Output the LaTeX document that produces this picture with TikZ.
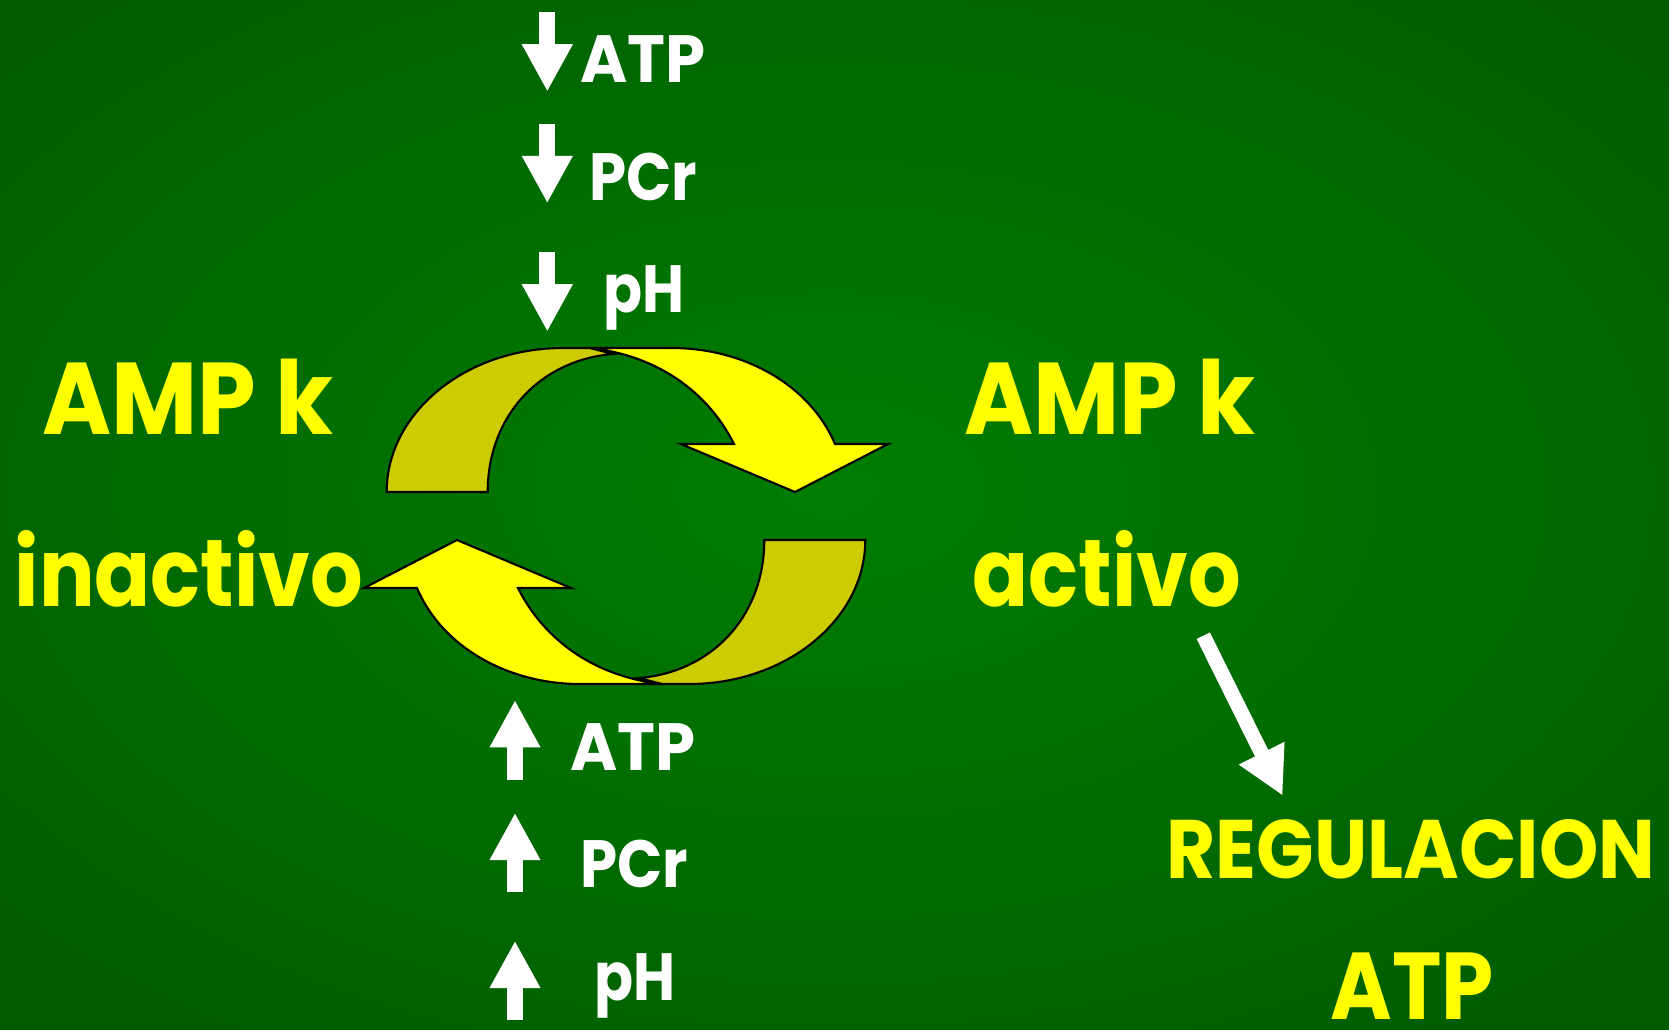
\documentclass[tikz,border=0pt]{standalone}
\usepackage{fontspec}
\newfontfamily\handfont{Poppins}
\usetikzlibrary{arrows.meta}

\definecolor{bgdark}{RGB}{0,77,0}
\definecolor{bglight}{RGB}{0,125,0}
\definecolor{ribbonlight}{RGB}{255,255,0}
\definecolor{ribbondark}{RGB}{204,204,0}

\pgfdeclareradialshading{bgglow}{\pgfpointorigin}{color(0bp)=(bglight); color(42bp)=(bgdark); color(50bp)=(bgdark)}

\tikzset{
  ribbon/.style={draw=black, line width=0.6pt, line join=miter},
  bigword/.style={text=ribbonlight, font=\handfont\bfseries\fontsize{29}{35}\selectfont, inner sep=0pt, anchor=base},
  midword/.style={text=ribbonlight, font=\handfont\bfseries\fontsize{27}{32}\selectfont, inner sep=0pt, anchor=base},
  smallword/.style={text=white, font=\handfont\bfseries\fontsize{19}{23}\selectfont, inner sep=0pt, anchor=base},
  blockarrow/.style={draw=white, line width=4.6pt, line cap=butt,
    -{Triangle[length=13.5pt, width=13.5pt]}},
}

\begin{document}
\begin{tikzpicture}[x=0.01cm, y=-0.01cm]
\useasboundingbox (0,0) rectangle (1669,1029);

% background glow
\fill[bgdark] (0,0) rectangle (1669,1029);
\shade[shading=bgglow] (-170,-110) rectangle (1830,1090);

% cycle ribbon, upper half (back face, then front face with head)
\path[ribbon, fill=ribbondark]
  (487.7,492) .. controls (487.7,416) and (540,360) .. (613,354)
  -- (590,348) -- (563,348)
  .. controls (466,348) and (386.7,412.5) .. (386.7,492) -- cycle;
\path[ribbon, fill=ribbonlight]
  (590,348) -- (672,348) .. controls (744,348) and (810,385) .. (835,444)
  -- (888,444) -- (795,492) -- (681,444) -- (734,444)
  .. controls (707,390) and (655,355) .. (590,348) -- cycle;

% cycle ribbon, lower half (same shape turned half a turn)
\begin{scope}[rotate around={180:(626,516)}]
\path[ribbon, fill=ribbondark]
  (487.7,492) .. controls (487.7,416) and (540,360) .. (613,354)
  -- (590,348) -- (563,348)
  .. controls (466,348) and (386.7,412.5) .. (386.7,492) -- cycle;
\path[ribbon, fill=ribbonlight]
  (590,348) -- (672,348) .. controls (744,348) and (810,385) .. (835,444)
  -- (888,444) -- (795,492) -- (681,444) -- (734,444)
  .. controls (707,390) and (655,355) .. (590,348) -- cycle;
\end{scope}

% state labels
\node[bigword, xscale=0.92] (ampin) at (188,434) {AMP k};
\node[midword, xscale=0.87] (inact) at (189,606) {inactivo};
\node[bigword, xscale=0.92] (ampact) at (1110,434) {AMP k};
\node[midword, xscale=0.87] (act) at (1107,606) {activo};
\node[bigword, xscale=0.91, font=\handfont\bfseries\fontsize{23.6}{28}\selectfont] (reg) at (1411,878) {REGULACION};
\node[bigword, xscale=0.88, font=\handfont\bfseries\fontsize{27}{32}\selectfont] (regatp) at (1412,1019) {ATP};

% falling levels
\node[smallword, xscale=0.96] (lowatp) at (643,82) {ATP};
\node[smallword, xscale=0.89] (lowpcr) at (643,200) {PCr};
\node[smallword, xscale=0.86] (lowph) at (644,312) {pH};
\coordinate (d1a) at (547.3,12.3);  \coordinate (d1b) at (547.3,91.7);
\coordinate (d2a) at (547.3,124);   \coordinate (d2b) at (547.3,203.3);
\coordinate (d3a) at (547.3,252.3); \coordinate (d3b) at (547.3,331.7);
\draw[blockarrow] (d1a) -- (d1b);
\draw[blockarrow] (d2a) -- (d2b);
\draw[blockarrow] (d3a) -- (d3b);

% rising levels
\node[smallword, xscale=0.96] (highatp) at (633,770) {ATP};
\node[smallword, xscale=0.89] (highpcr) at (634,887) {PCr};
\node[smallword, xscale=0.86] (highph) at (635,1000) {pH};
\coordinate (u1a) at (515,780);  \coordinate (u1b) at (515,700);
\coordinate (u2a) at (515,892);  \coordinate (u2b) at (515,812.7);
\coordinate (u3a) at (515,1020); \coordinate (u3b) at (515,940.7);
\draw[blockarrow] (u1a) -- (u1b);
\draw[blockarrow] (u2a) -- (u2b);
\draw[blockarrow] (u3a) -- (u3b);

% active kinase drives ATP regulation
\coordinate (acttail) at (1203.3,635.7);
\coordinate (reghead) at (1282.7,795.7);
\draw[blockarrow, line width=4.2pt] (acttail) -- (reghead);
\end{tikzpicture}
\end{document}
